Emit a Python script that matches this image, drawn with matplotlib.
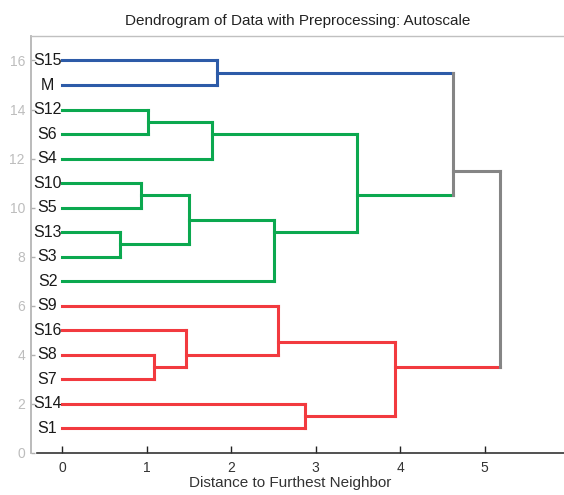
import matplotlib.pyplot as plt

# leaf order from bottom (y=1) to top (y=16)
leaves = ["S1", "S14", "S7", "S8", "S16", "S9", "S2", "S3",
          "S13", "S5", "S10", "S4", "S6", "S12", "M", "S15"]

# merges: new node, child a, child b, distance, colour group
merge_nodes = ["c1", "g1", "g2", "g3", "g4", "g5", "g6", "g7",
               "r1", "r2", "r3", "r4", "r5", "bg", "root"]
merge_a = ["S15", "S12", "g1", "S10", "S13", "g3", "g5", "g2",
           "S8", "S16", "S9", "S14", "r3", "c1", "bg"]
merge_b = ["M", "S6", "S4", "S5", "S3", "g4", "S2", "g6",
           "S7", "r1", "r2", "S1", "r4", "g7", "r5"]
merge_dist = [1.83, 1.01, 1.77, 0.93, 0.68, 1.50, 2.51, 3.49,
              1.08, 1.47, 2.55, 2.87, 3.94, 4.63, 5.18]
merge_group = ["blue", "green", "green", "green", "green", "green", "green", "green",
               "red", "red", "red", "red", "red", "top", "top"]

colors = {"blue": "#2d5ba8", "green": "#0ba84f", "red": "#f23a3f", "top": "#858585"}

# node positions: y is the mean of the leaf positions below it (as MATLAB does)
members = {name: [i + 1] for i, name in enumerate(leaves)}
height = {name: 0.0 for name in leaves}
group = {}
for n, a, b, d, g in zip(merge_nodes, merge_a, merge_b, merge_dist, merge_group):
    members[n] = members[a] + members[b]
    height[n] = d
    group[n] = g
    # leaves take the colour of the cluster they first join
    for c in (a, b):
        if c in leaves:
            group[c] = g
ypos = {n: sum(m) / len(m) for n, m in members.items()}

fig = plt.figure(figsize=(5.64, 4.95), dpi=100)
ax = fig.add_axes([0.0541, 0.0855, 0.9459, 0.8418])

kw = dict(lw=2.2, solid_joinstyle="miter", solid_capstyle="projecting")
for n, a, b, d, g in zip(merge_nodes, merge_a, merge_b, merge_dist, merge_group):
    # horizontal legs in the child's colour, vertical bar in the node's colour
    ax.plot([height[a], d], [ypos[a], ypos[a]], color=colors[group[a]], **kw)
    ax.plot([height[b], d], [ypos[b], ypos[b]], color=colors[group[b]], **kw)
    ax.plot([d, d], [ypos[a], ypos[b]], color=colors[g], **kw)

for i, name in enumerate(leaves):
    ax.text(-0.175, i + 1, name, ha="center", va="center", fontsize=11.5,
            color="#1a1a1a", family="Liberation Sans")

ax.set_xlim(-0.377, 5.94)
ax.set_ylim(0, 17)
ax.set_xticks(range(0, 6))
ax.set_yticks(range(0, 17, 2))

ax.tick_params(axis="x", direction="in", length=5, width=1, color="#222222",
               labelsize=10, labelcolor="#333333", pad=6)
ax.tick_params(axis="y", direction="in", length=3, width=1, color="#b0b0b0",
               labelsize=10, labelcolor="#bdbdbd", pad=4)
for lab in ax.get_xticklabels() + ax.get_yticklabels():
    lab.set_family("Liberation Sans")

ax.spines["right"].set_visible(False)
ax.spines["left"].set_color("#b5b5b5")
ax.spines["top"].set_color("#c0c0c0")
ax.spines["left"].set_linewidth(1.3)
ax.spines["top"].set_linewidth(1.0)
ax.spines["bottom"].set_color("#333333")
ax.spines["bottom"].set_linewidth(1.2)
ax.spines["bottom"].set_bounds(-0.3, 5.94)

ax.set_title("Dendrogram of Data with Preprocessing: Autoscale", fontsize=11,
             family="Liberation Sans", color="#222222", pad=8)
ax.set_xlabel("Distance to Furthest Neighbor", fontsize=11,
              family="Liberation Sans", color="#333333")
ax.xaxis.set_label_coords(0.486, -0.055)

fig.savefig("out.png", dpi=100)
